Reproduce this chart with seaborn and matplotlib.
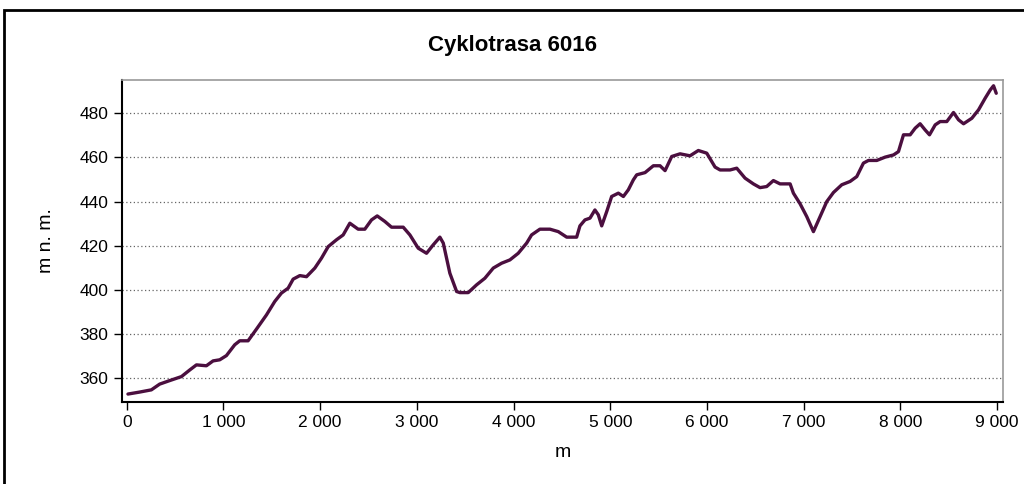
import numpy as np
import pandas as pd
import seaborn as sns
import matplotlib.pyplot as plt
from matplotlib.ticker import FuncFormatter
from matplotlib.patches import Rectangle

# elevation profile (distance in m, altitude in m n. m.)
distance = [13, 134, 255, 341, 445, 566, 652, 721, 824, 893, 962, 1031, 1117, 1169,
            1255, 1342, 1445, 1531, 1600, 1669, 1721, 1790, 1859, 1945, 2014, 2083,
            2169, 2238, 2307, 2393, 2462, 2531, 2590, 2669, 2738, 2859, 2928, 3014,
            3100, 3169, 3238, 3273, 3341, 3411, 3445, 3531, 3617, 3703, 3790, 3876,
            3962, 4048, 4135, 4186, 4272, 4376, 4462, 4549, 4652, 4686, 4738, 4790,
            4841, 4876, 4911, 4963, 5014, 5083, 5135, 5186, 5238, 5273, 5359, 5445,
            5514, 5566, 5635, 5721, 5824, 5910, 5997, 6083, 6135, 6238, 6307, 6393,
            6479, 6548, 6617, 6686, 6755, 6859, 6893, 6962, 7031, 7100, 7169, 7238,
            7307, 7393, 7479, 7548, 7617, 7669, 7755, 7841, 7928, 7979, 8031, 8100,
            8152, 8203, 8255, 8300, 8359, 8410, 8479, 8548, 8600, 8652, 8738, 8807,
            8876, 8928, 8962, 8990]
altitude = [352.9, 353.8, 354.8, 357.4, 359.0, 360.8, 363.8, 366.1, 365.7, 367.9,
            368.4, 370.3, 375.2, 377.0, 377.0, 382.3, 388.7, 394.8, 398.6, 400.8,
            404.9, 406.5, 406.0, 409.9, 414.4, 419.6, 422.7, 424.9, 430.2, 427.5,
            427.5, 431.7, 433.5, 431.0, 428.4, 428.4, 424.9, 418.9, 416.6, 420.4,
            423.9, 421.2, 407.6, 399.3, 398.8, 398.8, 402.3, 405.3, 409.9, 412.1,
            413.6, 416.6, 421.2, 424.9, 427.5, 427.5, 426.4, 423.9, 423.9, 429.0,
            431.7, 432.5, 436.2, 434.0, 429.0, 435.5, 442.3, 443.8, 442.3, 445.3,
            449.8, 452.1, 453.1, 456.2, 456.2, 454.0, 460.4, 461.6, 460.7, 463.1,
            461.9, 455.6, 454.3, 454.3, 455.1, 450.6, 448.0, 446.3, 446.8, 449.5,
            448.0, 448.0, 443.8, 439.0, 433.2, 426.4, 433.2, 440.0, 444.1, 447.6,
            449.1, 451.3, 457.4, 458.6, 458.6, 460.1, 461.1, 462.6, 470.2, 470.2,
            473.2, 475.2, 472.4, 470.2, 474.7, 476.2, 476.2, 480.3, 477.0, 475.2,
            477.7, 481.5, 486.8, 490.5, 492.4, 489.0]

y_ticks = [360, 380, 400, 420, 440, 460, 480]
x_ticks = [0, 1000, 2000, 3000, 4000, 5000, 6000, 7000, 8000, 9000]

df = pd.DataFrame({'m': distance, 'alt': altitude})

sns.set_style('white')
plt.rcParams['font.family'] = ['Liberation Sans', 'DejaVu Sans']
plt.rcParams['text.color'] = 'black'
plt.rcParams['axes.labelcolor'] = 'black'

fig = plt.figure(figsize=(10.24, 4.84), dpi=100)
ax = fig.add_axes([0.119, 0.1694, 0.8605, 0.6653])

sns.lineplot(data=df, x='m', y='alt', ax=ax, color='#4b0f3f', linewidth=2.4)

ax.set_xlim(-50, 9060)
ax.set_ylim(349.3, 495)
ax.set_xticks(x_ticks)
ax.set_yticks(y_ticks)
ax.xaxis.set_major_formatter(FuncFormatter(lambda v, p: f'{int(v):,}'.replace(',', ' ')))
ax.grid(axis='y', color='#666666', linestyle=(0, (1, 2)), linewidth=0.9)
ax.tick_params(axis='both', direction='out', length=6, width=1, labelsize=12.5,
               colors='black', left=True, bottom=True)

for side in ['left', 'bottom']:
    ax.spines[side].set_color('black')
    ax.spines[side].set_linewidth(1.5)
for side in ['top', 'right']:
    ax.spines[side].set_color('#999999')
    ax.spines[side].set_linewidth(1.2)

ax.set_xlabel('m', fontsize=14, labelpad=10)
ax.set_ylabel('m n. m.', fontsize=14, labelpad=18)
# title is centred on the whole figure, not on the axes
fig.text(0.5, 1 - 45 / 484, 'Cyklotrasa 6016', fontsize=16, fontweight='bold',
         color='black', ha='center', va='center')

# outer frame around the whole chart
fig.patches.append(Rectangle((4 / 1024, -0.1), 1.2, 1 - 10 / 484 + 0.1,
                             transform=fig.transFigure, fill=False,
                             edgecolor='black', linewidth=2))

fig.savefig('out.png', dpi=100)
